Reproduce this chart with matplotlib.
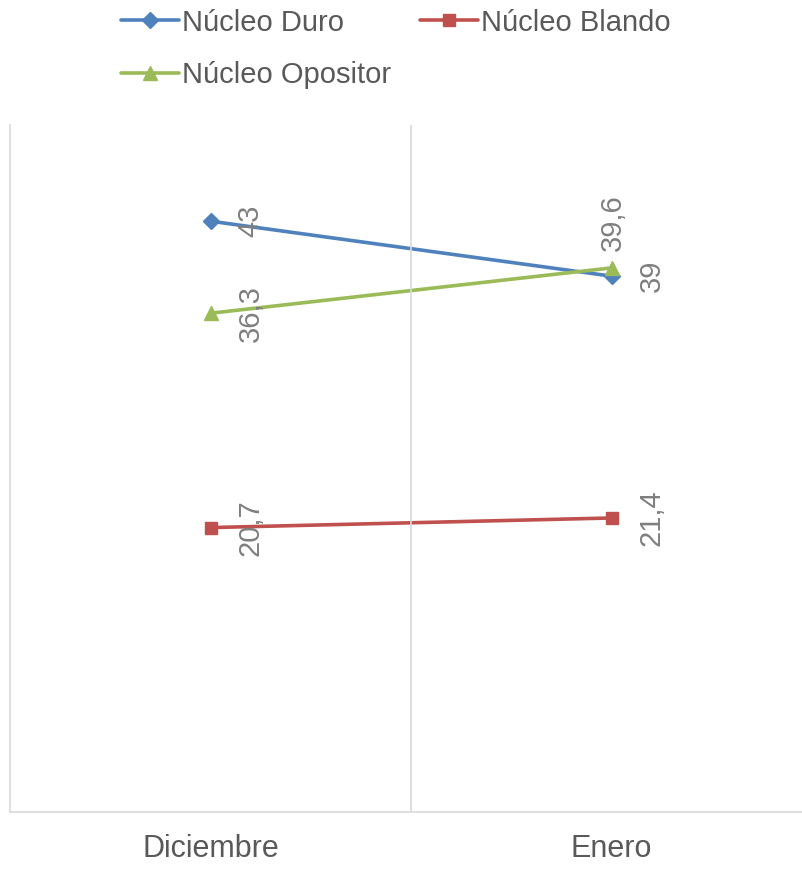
import matplotlib
matplotlib.use('Agg')
import matplotlib.pyplot as plt

plt.rcParams['font.family'] = ['Liberation Sans', 'DejaVu Sans']

# data
months = ['Diciembre', 'Enero']
duro = [43, 39]
blando = [20.7, 21.4]
opositor = [36.3, 39.6]

series = [
    ('Núcleo Duro', duro, '#4F81BD', 'D', 8, ['right', 'right']),
    ('Núcleo Blando', blando, '#C0504D', 's', 9, ['right', 'right']),
    ('Núcleo Opositor', opositor, '#9BBB59', '^', 10, ['right', 'above']),
]

fig = plt.figure(figsize=(8.02, 8.69), dpi=100)
ax = fig.add_axes([10 / 802, 1 - 812 / 869, 802 / 802, (812 - 125) / 869])

x = list(range(len(months)))
handles = {}
for name, vals, col, mk, ms, pos in series:
    ln, = ax.plot(x, vals, color=col, lw=2.6, marker=mk, ms=ms, label=name,
                  solid_capstyle='round')
    handles[name] = ln
    for xi, v, p in zip(x, vals, pos):
        lab = ('%g' % v).replace('.', ',')
        if p == 'right':
            ax.annotate(lab, (xi, v), xytext=(40, 0), textcoords='offset pixels',
                        rotation=90, ha='center', va='center',
                        fontsize=21, color='#7f7f7f')
        else:
            ax.annotate(lab, (xi, v), xytext=(1, 17), textcoords='offset pixels',
                        rotation=90, ha='center', va='bottom',
                        fontsize=21, color='#7f7f7f')

ax.set_xlim(-0.5, 1.5)
ax.set_ylim(0, 50)
ax.set_xticks(x)
ax.set_xticklabels(months, fontsize=22, color='#595959')
ax.tick_params(axis='x', length=0, pad=16)
ax.set_yticks([])
ax.axvline(0.5, color='#d9d9d9', lw=1.2)
for s in ['top', 'right']:
    ax.spines[s].set_visible(False)
for s in ['left', 'bottom']:
    ax.spines[s].set_color('#d9d9d9')
    ax.spines[s].set_linewidth(1.2)

order = ['Núcleo Duro', 'Núcleo Opositor', 'Núcleo Blando']
leg = fig.legend([handles[k] for k in order], order,
                 loc='upper left', bbox_to_anchor=(106 / 802, 1 + 6 / 869), ncol=2,
                 frameon=False, fontsize=21, handlelength=2.0,
                 handletextpad=0.1, columnspacing=1.0, labelspacing=0.85,
                 borderaxespad=0.1)
for t in leg.get_texts():
    t.set_color('#595959')

fig.savefig('out.png', dpi=100)
